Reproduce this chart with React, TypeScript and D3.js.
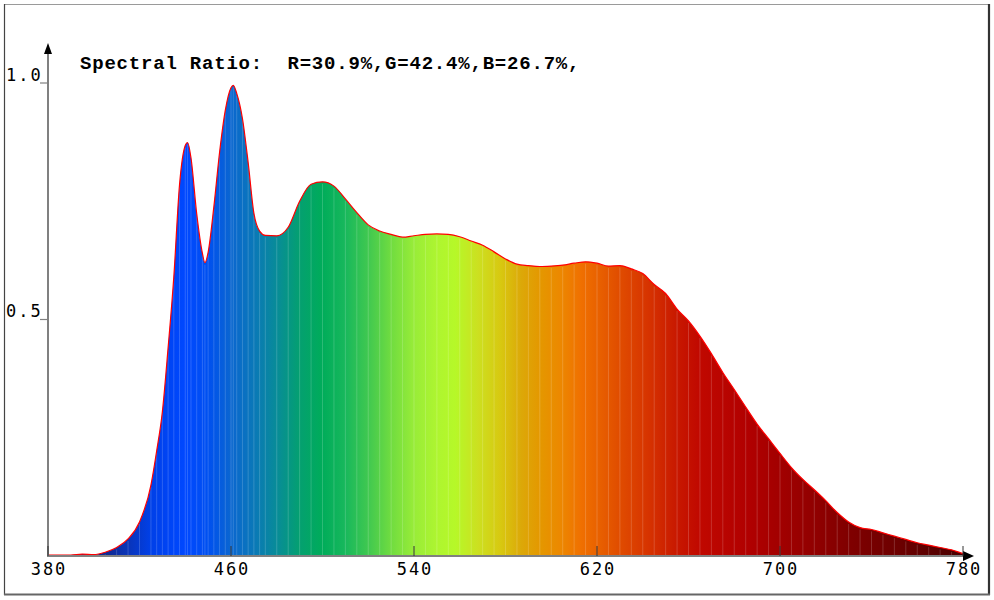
import React, { useEffect, useRef } from "react";
import * as d3 from "d3";

// wavelengths (nm) and relative spectral power
const wavelengths = [
  380, 385, 390, 395, 400, 405, 410, 415, 420, 425, 427.5, 430, 432.5, 435, 437.5, 440, 441,
  442.5, 445, 447.5, 448.6, 450, 452.5, 455, 457.5, 460, 461, 462.5, 465, 467.5, 470, 472.5,
  475, 480, 485, 490, 495, 500, 505, 510, 515, 520, 525, 530, 535, 540, 545, 550, 555, 560,
  565, 570, 575, 580, 585, 590, 595, 600, 605, 610, 615, 620, 625, 630, 635, 640, 645, 650,
  655, 660, 665, 670, 675, 680, 685, 690, 695, 700, 705, 710, 715, 720, 725, 730, 735, 740,
  745, 750, 755, 760, 765, 770, 775, 780,
];
const intensities = [
  0.002, 0.002, 0.002, 0.004, 0.003, 0.008, 0.018, 0.036, 0.072, 0.15, 0.222, 0.305, 0.44,
  0.59, 0.785, 0.868, 0.874, 0.842, 0.724, 0.64, 0.62, 0.642, 0.738, 0.853, 0.942, 0.99, 0.995,
  0.978, 0.925, 0.832, 0.725, 0.687, 0.678, 0.677, 0.695, 0.75, 0.786, 0.791, 0.782, 0.755,
  0.726, 0.7, 0.687, 0.68, 0.674, 0.677, 0.68, 0.681, 0.68, 0.675, 0.666, 0.657, 0.643, 0.628,
  0.617, 0.614, 0.612, 0.613, 0.615, 0.619, 0.622, 0.619, 0.613, 0.614, 0.607, 0.597, 0.574,
  0.555, 0.522, 0.497, 0.465, 0.428, 0.388, 0.352, 0.315, 0.279, 0.248, 0.217, 0.187, 0.162,
  0.14, 0.117, 0.092, 0.072, 0.06, 0.056, 0.049, 0.042, 0.035, 0.028, 0.023, 0.018, 0.013,
  0.005,
];
const xTicks = [380, 460, 540, 620, 700, 780];
const yTicks = [0.5, 1.0];
const yTickLabels = ["0.5", "1.0"];
const titleText = "Spectral Ratio:  R=30.9%,G=42.4%,B=26.7%,";

// spectrum colour stops (wavelength -> colour)
const stopWavelengths = [
  380, 405, 415, 425, 440, 450, 460, 470, 480, 490, 500, 510, 520, 530, 540, 550, 558, 568,
  578, 587, 595, 604, 613, 621, 630, 643, 655, 665, 687, 709, 730, 752, 774, 780,
];
const stopColors = [
  "#1a1a78", "#102890", "#0a34b8", "#0040e8", "#0048ff", "#0050f0", "#0a66d0", "#0a78b8",
  "#088c98", "#04a070", "#00ac5a", "#18b85c", "#40c850", "#70dc40", "#98ec38", "#aef530",
  "#b6f828", "#cce020", "#d8c810", "#dca808", "#e49800", "#ec8800", "#f07000", "#e86000",
  "#e04c00", "#d63200", "#c81800", "#c00800", "#b00000", "#980000", "#800000", "#6c0000",
  "#500000", "#480000",
];

const W = 994;
const H = 600;

export default function App() {
  const ref = useRef<SVGSVGElement | null>(null);

  useEffect(() => {
    const svg = d3.select(ref.current);
    svg.selectAll("*").remove();

    const x = d3.scaleLinear().domain([380, 780]).range([48, 963]);
    const y = d3.scaleLinear().domain([0, 1]).range([556, 83]);

    const data = wavelengths.map((w, i) => ({ w, v: intensities[i] }));

    // frame
    svg.append("line").attr("x1", 4).attr("x2", 990).attr("y1", 4.5).attr("y2", 4.5)
      .attr("stroke", "#9a9a9a").attr("stroke-width", 1);
    svg.append("line").attr("x1", 4.5).attr("x2", 4.5).attr("y1", 4).attr("y2", 595)
      .attr("stroke", "#444").attr("stroke-width", 1.2);
    svg.append("line").attr("x1", 989).attr("x2", 989).attr("y1", 4).attr("y2", 595)
      .attr("stroke", "#333").attr("stroke-width", 2.2);
    svg.append("line").attr("x1", 4).attr("x2", 990).attr("y1", 594.5).attr("y2", 594.5)
      .attr("stroke", "#666").attr("stroke-width", 1.8);

    const defs = svg.append("defs");
    const grad = defs.append("linearGradient").attr("id", "spec")
      .attr("gradientUnits", "userSpaceOnUse")
      .attr("x1", x(380)).attr("x2", x(780)).attr("y1", 0).attr("y2", 0);
    stopWavelengths.forEach((w, i) => {
      grad.append("stop")
        .attr("offset", `${((w - 380) / 400) * 100}%`)
        .attr("stop-color", stopColors[i]);
    });

    const curve = d3.curveMonotoneX;
    const area = d3.area<{ w: number; v: number }>()
      .x((d) => x(d.w)).y0(y(0)).y1((d) => y(d.v)).curve(curve);
    const line = d3.line<{ w: number; v: number }>()
      .x((d) => x(d.w)).y((d) => y(d.v)).curve(curve);

    svg.append("path").attr("d", area(data) as string).attr("fill", "url(#spec)");

    // subtle lighter streaks (vertical bars per data sample)
    svg.append("g").selectAll("line").data(data.slice(4, -1)).join("line")
      .attr("x1", (d) => x(d.w)).attr("x2", (d) => x(d.w))
      .attr("y1", y(0)).attr("y2", (d) => y(d.v) + 2)
      .attr("stroke", "#ffffff").attr("stroke-opacity", 0.22).attr("stroke-width", 0.8);

    svg.append("path").attr("d", line(data) as string).attr("fill", "none")
      .attr("stroke", "#ff0000").attr("stroke-width", 1.2);

    // axes
    svg.append("line").attr("x1", 48).attr("x2", 48).attr("y1", 556).attr("y2", 52)
      .attr("stroke", "#808080").attr("stroke-width", 2);
    svg.append("path").attr("d", "M48,43 L44,54 L52,54 Z").attr("fill", "#000");
    svg.append("line").attr("x1", 47).attr("x2", 965).attr("y1", 556).attr("y2", 556)
      .attr("stroke", "#808080").attr("stroke-width", 2);
    svg.append("path").attr("d", "M974,556 L963,551 L963,561 Z").attr("fill", "#000");

    // y ticks
    yTicks.forEach((t, i) => {
      svg.append("line").attr("x1", 40).attr("x2", 48).attr("y1", y(t)).attr("y2", y(t))
        .attr("stroke", "#808080").attr("stroke-width", 1.2);
      svg.append("text").attr("x", 6).attr("y", y(t) - 2.5)
        .attr("font-family", "DejaVu Sans Mono").attr("font-size", 17)
        .attr("letter-spacing", 2).attr("fill", "#000")
        .text(yTickLabels[i]);
    });

    // x ticks
    xTicks.forEach((t) => {
      svg.append("line").attr("x1", x(t)).attr("x2", x(t)).attr("y1", 546).attr("y2", 556)
        .attr("stroke", "#333").attr("stroke-width", 1);
      svg.append("text").attr("x", x(t) + 1).attr("y", 574.5)
        .attr("text-anchor", "middle")
        .attr("font-family", "DejaVu Sans Mono").attr("font-size", 17)
        .attr("letter-spacing", 2).attr("fill", "#000")
        .text(String(t));
    });

    svg.append("text").attr("x", 80).attr("y", 69)
      .attr("font-family", "Liberation Mono").attr("font-weight", "bold")
      .attr("font-size", 19).attr("letter-spacing", 0.8).attr("fill", "#000")
      .attr("xml:space", "preserve").style("white-space", "pre")
      .text(titleText);
  }, []);

  return (
    <svg
      ref={ref}
      width={W}
      height={H}
      style={{ position: "absolute", left: 0, top: 0, background: "#fff" }}
    />
  );
}
